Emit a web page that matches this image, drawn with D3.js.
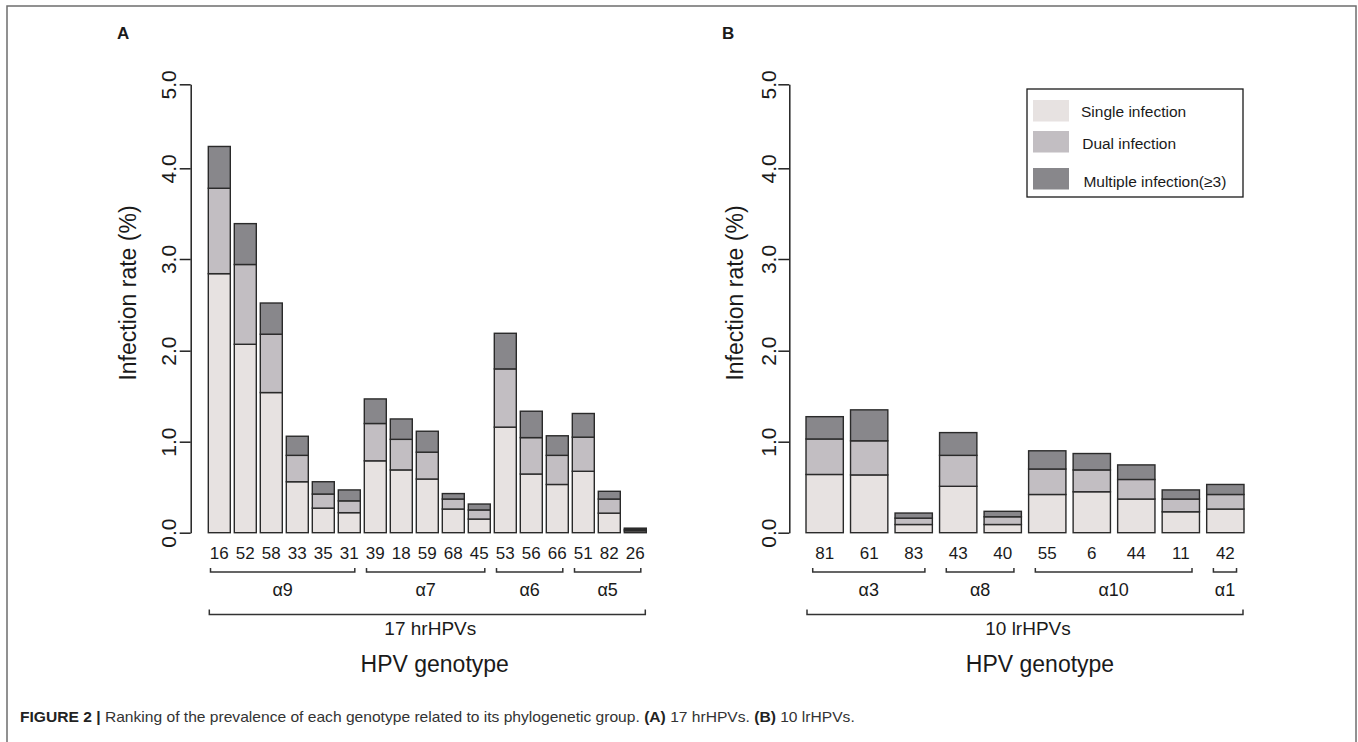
<!DOCTYPE html>
<html>
<head>
	<meta charset="utf-8">
	<title>HPV genotype ranking</title>
	<script src="https://d3js.org/d3.v7.min.js"></script>
	<style>
		html, body {
			margin: 0;
			background: white;
			overflow: hidden;
		}
		svg text {
			font-family: "Liberation Sans", Arial, sans-serif;
			fill: #1a1a1a;
		}
	</style>
</head>
<body>
	<svg id="svg"></svg>
	<script>
		// ---- data ----
		const genotypesA = ["16", "52", "58", "33", "35", "31", "39", "18", "59", "68", "45", "53", "56", "66", "51", "82", "26"];
		const singleA = [2.84, 2.07, 1.54, 0.56, 0.27, 0.22, 0.79, 0.69, 0.59, 0.26, 0.15, 1.16, 0.645, 0.53, 0.675, 0.215, 0.02];
		const dualA   = [0.94, 0.87, 0.64, 0.29, 0.155, 0.13, 0.41, 0.336, 0.295, 0.11, 0.10, 0.64, 0.40, 0.32, 0.375, 0.155, 0.015];
		const multiA  = [0.48, 0.45, 0.34, 0.21, 0.135, 0.12, 0.27, 0.224, 0.23, 0.06, 0.065, 0.39, 0.29, 0.215, 0.26, 0.085, 0.015];
		const groupLabelsA = ["α9", "α7", "α6", "α5"];
		const groupSizesA = [6, 5, 3, 3];

		const genotypesB = ["81", "61", "83", "43", "40", "55", "6", "44", "11", "42"];
		const singleB = [0.64, 0.635, 0.09, 0.51, 0.09, 0.42, 0.45, 0.37, 0.23, 0.26];
		const dualB   = [0.39, 0.375, 0.07, 0.34, 0.085, 0.28, 0.24, 0.215, 0.14, 0.16];
		const multiB  = [0.245, 0.34, 0.056, 0.25, 0.06, 0.20, 0.18, 0.16, 0.10, 0.11];
		const groupLabelsB = ["α3", "α8", "α10", "α1"];
		const groupSizesB = [3, 2, 4, 1];

		const yTicks = [0, 1, 2, 3, 4, 5];
		const seriesKeys = ["single", "dual", "multi"];
		const seriesNames = ["Single infection", "Dual infection", "Multiple infection(≥3)"];
		const seriesColors = ["#e7e2e1", "#c2bec2", "#88878b"];

		// ---- layout ----
		const W = 1358, H = 742;
		const yPix = [532.7, 441.7, 350.7, 259, 168.3, 84.3];

		const svg = d3.select("#svg")
		.attr("width", W)
		.attr("height", H);

		// figure frame
		svg.append("rect")
		.attr("x", 7).attr("y", 6)
		.attr("width", 1349).attr("height", H)
		.attr("fill", "none")
		.attr("stroke", "#6e6e6e")
		.attr("stroke-width", 1.5);

		const color = d3.scaleOrdinal().domain(seriesKeys).range(seriesColors);

		function drawPanel(cfg) {
			const g = svg.append("g");

			const x = d3.scaleBand()
			.domain(cfg.genotypes)
			.range(cfg.xRange)
			.paddingInner(cfg.pad)
			.paddingOuter(cfg.pad / 2);

			const y = d3.scaleLinear()
			.domain(yTicks)
			.range(yPix);

			const rows = cfg.genotypes.map((gt, i) => ({
				genotype: gt,
				single: cfg.single[i],
				dual: cfg.dual[i],
				multi: cfg.multi[i]
			}));

			const stacked = d3.stack().keys(seriesKeys)(rows);

			g.selectAll("g.layer")
			.data(stacked)
			.enter()
			.append("g")
			.attr("class", "layer")
			.attr("fill", d => color(d.key))
			.selectAll("rect")
			.data(d => d)
			.enter()
			.append("rect")
			.attr("x", d => x(d.data.genotype))
			.attr("width", x.bandwidth())
			.attr("y", d => y(d[1]))
			.attr("height", d => y(d[0]) - y(d[1]))
			.attr("stroke", "#2a2a2a")
			.attr("stroke-width", 1.4);

			// y axis, R style
			const axis = g.append("g")
			.attr("transform", `translate(${cfg.axisX},0)`)
			.call(d3.axisLeft(y).tickValues(yTicks).tickFormat(d3.format(".1f")).tickSize(11).tickSizeOuter(0).tickPadding(0));
			axis.select(".domain").attr("stroke", "#222").attr("stroke-width", 1.5);
			axis.selectAll(".tick line").attr("stroke", "#222").attr("stroke-width", 1.5);
			axis.selectAll(".tick text")
			.attr("x", null).attr("dy", null)
			.attr("transform", `translate(${-cfg.tickLabelGap},0) rotate(-90)`)
			.attr("text-anchor", "middle")
			.style("font-size", "21px")
			.style("font-family", "Liberation Sans, Arial, sans-serif")
			.attr("fill", "#1a1a1a");

			g.append("text")
			.attr("transform", `translate(${cfg.axisX - cfg.titleGap},293) rotate(-90)`)
			.attr("text-anchor", "middle")
			.style("font-size", "23px")
			.text("Infection rate (%)");

			// genotype labels
			g.selectAll("text.gt")
			.data(cfg.genotypes)
			.enter()
			.append("text")
			.attr("class", "gt")
			.attr("x", d => x(d) + x.bandwidth() / 2)
			.attr("y", 559)
			.attr("text-anchor", "middle")
			.style("font-size", "17px")
			.text(d => d);

			// group brackets
			const bracket = (x1, x2, yy, h) => `M${x1},${yy - h}V${yy}H${x2}V${yy - h}`;
			let start = 0;
			cfg.groupSizes.forEach((n, k) => {
				const first = cfg.genotypes[start];
				const last = cfg.genotypes[start + n - 1];
				const x1 = x(first) + x.bandwidth() * cfg.inL;
				const x2 = x(last) + x.bandwidth() * (1 - cfg.inR);
				g.append("path")
				.attr("d", bracket(x1, x2, 572, 4))
				.attr("fill", "none")
				.attr("stroke", "#333")
				.attr("stroke-width", 1.5);
				g.append("text")
				.attr("x", (x1 + x2) / 2)
				.attr("y", 596)
				.attr("text-anchor", "middle")
				.style("font-size", "18px")
				.text(cfg.groupLabels[k]);
				start += n;
			});

			const bx1 = x(cfg.genotypes[0]) + 1;
			const bx2 = x(cfg.genotypes[cfg.genotypes.length - 1]) + x.bandwidth() - 1;
			g.append("path")
			.attr("d", bracket(bx1, bx2, 614.5, 5))
			.attr("fill", "none")
			.attr("stroke", "#333")
			.attr("stroke-width", 1.5);
			g.append("text")
			.attr("x", (bx1 + bx2) / 2 + 3)
			.attr("y", 635)
			.attr("text-anchor", "middle")
			.style("font-size", "19px")
			.text(cfg.bigLabel);

			g.append("text")
			.attr("x", cfg.xlabX)
			.attr("y", 672)
			.attr("text-anchor", "middle")
			.style("font-size", "23px")
			.text("HPV genotype");

			g.append("text")
			.attr("x", cfg.letterX)
			.attr("y", 39)
			.style("font-size", "17px")
			.style("font-weight", "bold")
			.text(cfg.letter);
		}

		drawPanel({
			genotypes: genotypesA, single: singleA, dual: dualA, multi: multiA,
			groupLabels: groupLabelsA, groupSizes: groupSizesA,
			xRange: [206.3, 648.3], pad: 0.154, axisX: 190.7,
			tickLabelGap: 15, titleGap: 55, inL: 0.1, inR: 0.25,
			bigLabel: "17 hrHPVs", xlabX: 434.7, letter: "A", letterX: 117
		});

		drawPanel({
			genotypes: genotypesB, single: singleB, dual: dualB, multi: multiB,
			groupLabels: groupLabelsB, groupSizes: groupSizesB,
			xRange: [802.4, 1247.6], pad: 0.162, axisX: 789.3,
			tickLabelGap: 13, titleGap: 46, inL: 0.18, inR: 0.2,
			bigLabel: "10 lrHPVs", xlabX: 1040, letter: "B", letterX: 722
		});

		// legend
		const legend = svg.append("g").attr("transform", "translate(1027,89)");
		legend.append("rect")
		.attr("width", 216).attr("height", 108)
		.attr("fill", "white")
		.attr("stroke", "#1a1a1a")
		.attr("stroke-width", 1.3);
		const legendY = [11, 42, 79];
		const legendTextY = [27.7, 60.3, 98.3];
		seriesKeys.forEach((k, i) => {
			legend.append("rect")
			.attr("x", 6).attr("y", legendY[i])
			.attr("width", 36).attr("height", 21.5)
			.attr("fill", color(k));
			legend.append("text")
			.attr("x", 54 + i * 1.2).attr("y", legendTextY[i])
			.style("font-size", "15.5px")
			.text(seriesNames[i]);
		});

		// caption
		const cap = svg.append("text")
		.attr("y", 0)
		.style("font-size", "15px");
		cap.append("tspan").style("font-weight", "bold").attr("fill", "#222").text("FIGURE 2 | ");
		cap.append("tspan").attr("fill", "#333").text("Ranking of the prevalence of each genotype related to its phylogenetic group. ");
		cap.append("tspan").style("font-weight", "bold").attr("fill", "#222").text("(A)");
		cap.append("tspan").attr("fill", "#333").text(" 17 hrHPVs. ");
		cap.append("tspan").style("font-weight", "bold").attr("fill", "#222").text("(B)");
		cap.append("tspan").attr("fill", "#333").text(" 10 lrHPVs.");
		const capW = cap.node().getBBox().width;
		cap.attr("transform", `translate(20,722) scale(${835 / capW},1)`);
	</script>
</body>
</html>
